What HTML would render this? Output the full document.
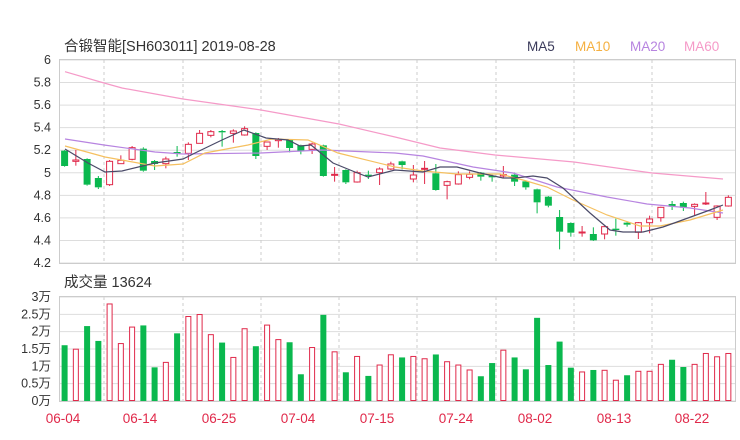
<!DOCTYPE html>
<html><head><meta charset="utf-8"><style>
html,body{margin:0;padding:0;background:#fff;width:740px;height:440px;overflow:hidden}
svg{display:block;font-family:"Liberation Sans","Noto Sans CJK SC",sans-serif}
</style></head><body>
<svg id="s" width="740" height="440" viewBox="0 0 740 440" xmlns="http://www.w3.org/2000/svg">
<text x="64" y="51" font-size="14.5" fill="#333">合锻智能[SH603011] 2019-08-28</text>
<text x="527" y="51" font-size="13.5" fill="#3a3a5a">MA5</text>
<text x="575" y="51" font-size="13.5" fill="#f5b041">MA10</text>
<text x="630" y="51" font-size="13.5" fill="#b784e0">MA20</text>
<text x="684" y="51" font-size="13.5" fill="#f59ac8">MA60</text>
<text x="64" y="287" font-size="14.5" fill="#333">成交量 13624</text>
<g id="g"></g>
</svg>
<script>
var g=document.getElementById('g'),h='';
function L(x1,y1,x2,y2,c,w,d){h+='<line x1="'+x1+'" y1="'+y1+'" x2="'+x2+'" y2="'+y2+'" stroke="'+c+'" stroke-width="'+(w||1)+'"'+(d?' stroke-dasharray="'+d+'"':'')+'/>';}
function T(x,y,t,c,a){h+='<text x="'+x+'" y="'+y+'" font-size="12.5" fill="'+(c||'#333')+'" text-anchor="'+(a||'end')+'">'+t+'</text>';}
var labs=['6','5.8','5.6','5.4','5.2','5','4.8','4.6','4.4','4.2'];
for(var i=0;i<10;i++){var y=60+i*203/9;L(59,y,735,y,'#ddd');T(51,y+4,labs[i]);}
[104,183,261,339,417,496,574,652].forEach(function(x){L(x,60,x,263,'#ccc',1,'3,3');L(x,297,x,401,'#ccc',1,'3,3');});
h+='<rect x="59.5" y="59.5" width="676" height="204" fill="none" stroke="#ccc"/>';
var vl=['3万','2.5万','2万','1.5万','1万','0.5万','0万'];
for(i=0;i<7;i++){var y=297+i*104/6;L(59,y,735,y,'#ddd');T(51,y+4,vl[i]);}
h+='<rect x="59.5" y="296.5" width="676" height="105" fill="none" stroke="#ccc"/>';
var dl=[['06-04',63],['06-14',140],['06-25',219],['07-04',298],['07-15',377],['07-24',456],['08-02',535],['08-13',614],['08-22',692]];
dl.forEach(function(d){h+='<text x="'+d[1]+'" y="423" font-size="13.5" fill="#e0294a" text-anchor="middle">'+d[0]+'</text>';});
var V=[['G',183],['R',195],['G',125],['G',170],['R',58],['R',178],['R',128],['G',123],['G',250],['R',235],['G',147],['R',96],['R',90],['R',151],['G',175],['R',220],['R',133],['G',186],['R',122],['R',166],['G',174],['G',271],['R',190],['G',91],['R',203],['G',265],['R',217],['G',276],['R',243],['R',212],['G',220],['R',217],['R',224],['G',211],['R',233],['R',243],['R',258],['G',277],['G',237],['R',198],['G',220],['G',256],['G',100],['G',243],['G',172],['G',251],['R',264],['G',258],['R',259],['R',289],['G',274],['R',262],['R',262],['R',241],['G',227],['G',249],['R',241],['R',208],['R',218],['R',208]];
function cx(i){return 64.6+11.25*i;}
V.forEach(function(v,i){var top=401-(352-v[1])/3.03,x=cx(i)-3;
 if(v[0]=='G')h+='<rect x="'+x+'" y="'+top+'" width="6" height="'+(401-top)+'" fill="#0ab84e"/>';
 else h+='<rect x="'+(x+0.5)+'" y="'+top+'" width="5" height="'+(401-top-0.5)+'" fill="#fff" stroke="#e0294a"/>';});
var C=[['G',302,348,300,350],['R',330,334,300,347],['G',327,404,325,407],['G',384,412,378,417],['R',334,404,330,408],['R',331,341,316,341],['R',293,328,288,331],['G',296,362,292,365],['G',333,342,330,360],['R',327,341,320,355],['G',306,311,288,320],['R',283,310,277,330],['R',250,280,240,280],['R',245,256,240,262],['G',243,247,240,290],['R',243,250,238,278],['R',236,255,229,257],['G',249,318,247,327],['R',276,289,275,300],['R',268,272,264,293],['G',268,294,268,307],['G',286,304,284,313],['R',282,298,278,312],['G',286,378,284,380],['R',373,375,351,395],['G',360,397,358,402],['R',368,396,362,398],['G',374,378,362,387],['R',357,368,352,405],['R',342,357,335,360],
['G',334,345,332,358],['R',375,387,345,397],['R',355,358,333,402],['G',370,420,342,422],['R',395,406,392,448],['R',374,402,364,404],['R',373,382,364,388],['G',368,380,366,392],['G',377,382,374,395],['R',374,378,348,385],['G',374,395,368,408],['G',394,412,392,419],['G',418,457,416,490],['G',440,467,438,472],['G',501,545,480,598],['G',519,548,517,560],['R',546,548,528,560],['G',552,571,532,573],['R',530,552,528,568],['G',536,540,506,557],['G',518,524,514,530],['R',518,547,516,567],['R',507,518,497,550],['R',472,503,470,515],['G',462,470,453,480],['G',459,473,455,483],['R',463,469,460,497],['R',459,462,426,465],['R',468,502,466,510],['R',442,468,436,470]];
C.forEach(function(c,i){var x=cx(i),f=function(Y){return 50+Y/3;};var col=c[0]=='G'?'#0ab84e':'#e0294a';
 var bt=f(c[1]),bb=f(c[2]);if(bb-bt<1)bb=bt+1;
 L(x,f(c[3]),x,bt,col);L(x,bb,x,f(c[4]),col);
 if(c[0]=='G')h+='<rect x="'+(x-3.5)+'" y="'+bt+'" width="7" height="'+(bb-bt)+'" fill="'+col+'"/>';
 else h+='<rect x="'+(x-3)+'" y="'+bt+'" width="6" height="'+(bb-bt)+'" fill="#fff" stroke="'+col+'"/>';});
function P(pts,c){h+='<polyline fill="none" stroke="'+c+'" stroke-width="1.2" points="'+pts+'"/>';}
P('65,71.7 104,83 122,88 183,99 261,110 339,124 395,137 440,148 495,155 574,162 652,173 723,179','#f59ac8');
P('65,139 104,145 155,152 183,154 261,153 322,150 395,153 423,156 473,167 513,173 557,187 607,197 647,204 690,208 723,213','#b784e0');
P('65,146 105,157 155,166 183,164 205,153 248,145 272,139 308,140 338,153 395,167 423,171 457,174 500,174 523,180 547,187 573,200 607,215 640,226 660,226 690,220 723,210','#f5c060');
P('65,149 88,163 105,172 122,171 155,163 183,159 195,153 222,140 244,130 266,138 288,140 300,146 311,145 333,163 355,172 368,177 395,170 423,172 440,167 457,167 480,173 503,178 515,178 533,176 547,178 563,188 590,213 610,230 623,232 643,232 663,227 677,222 710,210 723,205','#4a4a68');
g.innerHTML=h;
</script>
</body></html>
